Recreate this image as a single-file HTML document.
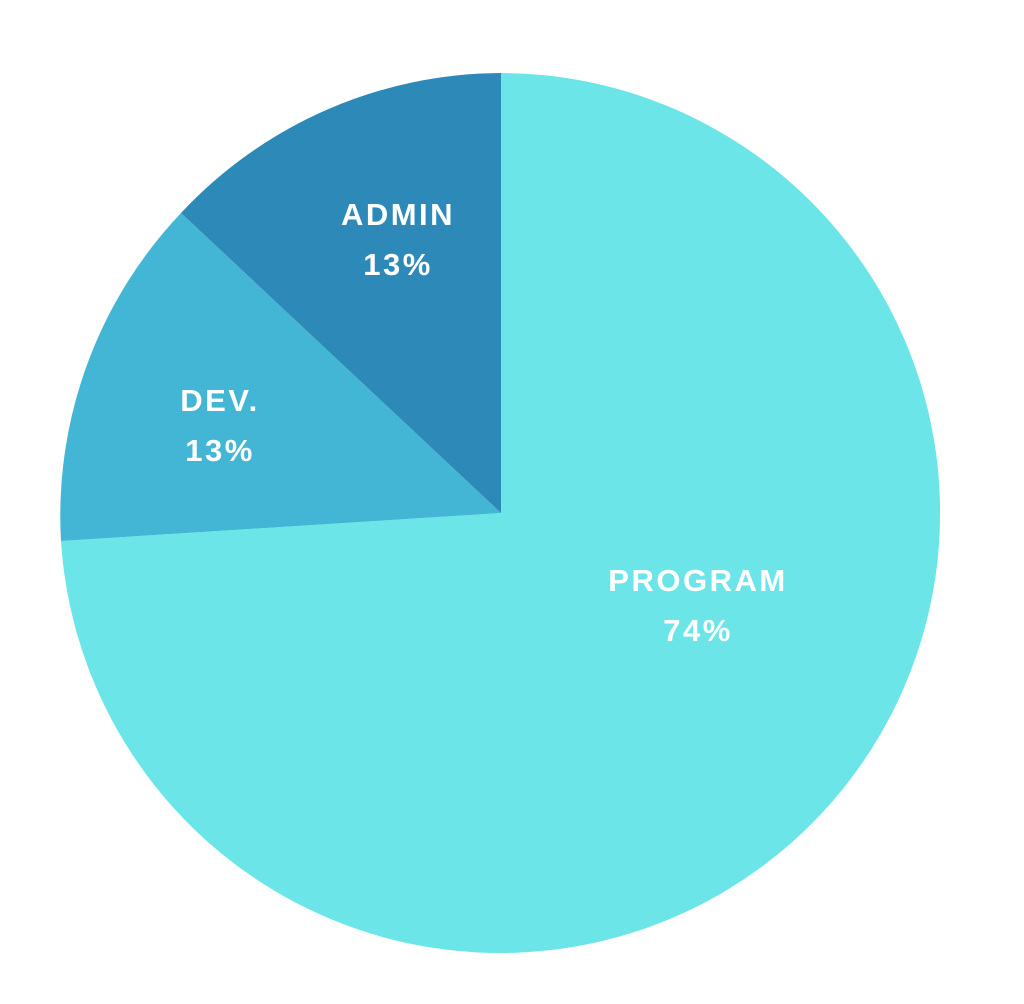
<!DOCTYPE html>
<html><head><style>
html,body{margin:0;padding:0;background:#fff;}
</style></head><body>
<svg width="1024" height="999" viewBox="0 0 1024 999" xmlns="http://www.w3.org/2000/svg">
<path d="M501,513 L501,73 A440,440 0 1 1 61,541 Z" fill="#6BE5E8"/>
<path d="M501,513 L61,541 A440,440 0 0 1 181,213 Z" fill="#42B6D4"/>
<path d="M501,513 L181,213 A440,440 0 0 1 501,73 Z" fill="#2D8AB8"/>
<g font-family="Liberation Sans, sans-serif" font-weight="bold" font-size="31" fill="#fff" text-anchor="middle" letter-spacing="2.5">
<text x="398" y="225">ADMIN</text>
<text x="398" y="275">13%</text>
<text x="220" y="411">DEV.</text>
<text x="220" y="461">13%</text>
<text x="698" y="591">PROGRAM</text>
<text x="698" y="641">74%</text>
</g>
</svg>
</body></html>
